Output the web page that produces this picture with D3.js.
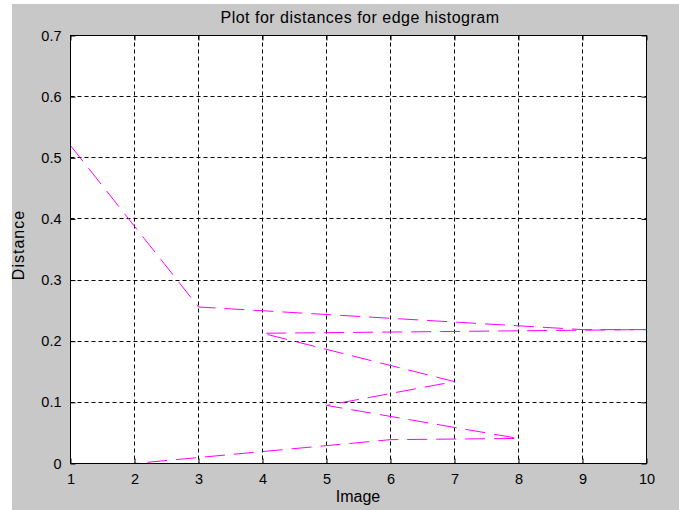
<!DOCTYPE html>
<html>
<head>
<meta charset="utf-8">
<script src="https://cdn.jsdelivr.net/npm/d3@7"></script>
<style>
  body { margin: 0; background: #fff; }
  .chart { width: 679px; height: 510px; }
  text { font-family: "Liberation Sans", Arial, sans-serif; fill: #000; }
</style>
</head>
<body>
<div class="chart"></div>
<script>
// image index (in plotted order) and its distance
var images = [1, 3, 9, 10, 4, 7, 5, 8, 6, 2];
var distances = [0.52, 0.256, 0.219, 0.219, 0.213, 0.134, 0.095, 0.041, 0.039, 0];

var xTicks = [1, 2, 3, 4, 5, 6, 7, 8, 9, 10];
var yTicks = [0, 0.1, 0.2, 0.3, 0.4, 0.5, 0.6, 0.7];
var yTickLabels = ["0", "0.1", "0.2", "0.3", "0.4", "0.5", "0.6", "0.7"];

var title = "Plot for distances for edge histogram",
    xLabel = "Image",
    yLabel = "Distance";

var svg = d3.select(".chart").append("svg").attr("width", 679).attr("height", 510);

// grey figure background
svg.append("rect").attr("x", 12).attr("y", 4).attr("width", 667).attr("height", 506).attr("fill", "#c8c8c8");

var margin = {top: 35, right: 33, bottom: 47, left: 70},
    width = 679 - margin.left - margin.right,
    height = 510 - margin.top - margin.bottom;

var x = d3.scaleLinear().domain([1, 10]).range([0, width]),
    y = d3.scaleLinear().domain([0, 0.7]).range([height, 0]);

var g = svg.append("g").attr("transform", "translate(" + (margin.left + 0.5) + "," + (margin.top + 0.5) + ")");

g.append("rect").attr("width", width).attr("height", height).attr("fill", "#fff");

// grid
g.append("g").selectAll("line").data(xTicks.slice(1, -1)).enter().append("line")
    .attr("x1", function(d) { return Math.round(x(d)); })
    .attr("x2", function(d) { return Math.round(x(d)); })
    .attr("y1", 0).attr("y2", height)
    .attr("stroke", "#000").attr("stroke-dasharray", "4,3");

g.append("g").selectAll("line").data(yTicks.slice(1, -1)).enter().append("line")
    .attr("y1", function(d) { return Math.round(y(d)); })
    .attr("y2", function(d) { return Math.round(y(d)); })
    .attr("x1", 0).attr("x2", width)
    .attr("stroke", "#000").attr("stroke-dasharray", "4,3");

// data line
var line = d3.line()
    .x(function(d, i) { return x(images[i]); })
    .y(function(d) { return y(d); });

g.append("path")
    .datum(distances)
    .attr("d", line)
    .attr("fill", "none")
    .attr("stroke", "#ff00ff")
    .attr("stroke-width", 1)
    .attr("stroke-dasharray", "20,9");

// axes with inner ticks
var xAxis = g.append("g")
    .attr("transform", "translate(0," + height + ")")
    .call(d3.axisBottom(x).tickValues(xTicks).tickFormat(d3.format("d")).tickSizeInner(-5).tickSizeOuter(0).tickPadding(10));

var yAxis = g.append("g")
    .call(d3.axisLeft(y).tickValues(yTicks).tickFormat(function(d, i) { return yTickLabels[i]; }).tickSizeInner(-5).tickSizeOuter(0).tickPadding(9));

g.append("g").call(d3.axisTop(x).tickValues(xTicks).tickFormat("").tickSizeInner(-5).tickSizeOuter(0));
g.append("g").attr("transform", "translate(" + width + ",0)")
    .call(d3.axisRight(y).tickValues(yTicks).tickFormat("").tickSizeInner(-5).tickSizeOuter(0));

g.selectAll(".domain").remove();
g.selectAll(".tick line").attr("stroke", "#000");
g.selectAll(".tick text").style("font-size", "14.5px").style("font-family", "Liberation Sans, Arial, sans-serif").attr("fill", "#000");

g.append("rect").attr("width", width).attr("height", height).attr("fill", "none").attr("stroke", "#000");

// labels
svg.append("text")
    .attr("x", margin.left + width / 2 + 2).attr("y", 23)
    .attr("text-anchor", "middle")
    .style("font-size", "16px")
    .style("letter-spacing", "0.5px")
    .text(title);

svg.append("text")
    .attr("x", margin.left + width / 2).attr("y", 502)
    .attr("text-anchor", "middle")
    .style("font-size", "16px")
    .text(xLabel);

svg.append("text")
    .attr("transform", "translate(24," + (margin.top + height / 2 - 4) + ") rotate(-90)")
    .attr("text-anchor", "middle")
    .style("font-size", "16px")
    .style("letter-spacing", "1px")
    .text(yLabel);
</script>
</body>
</html>
